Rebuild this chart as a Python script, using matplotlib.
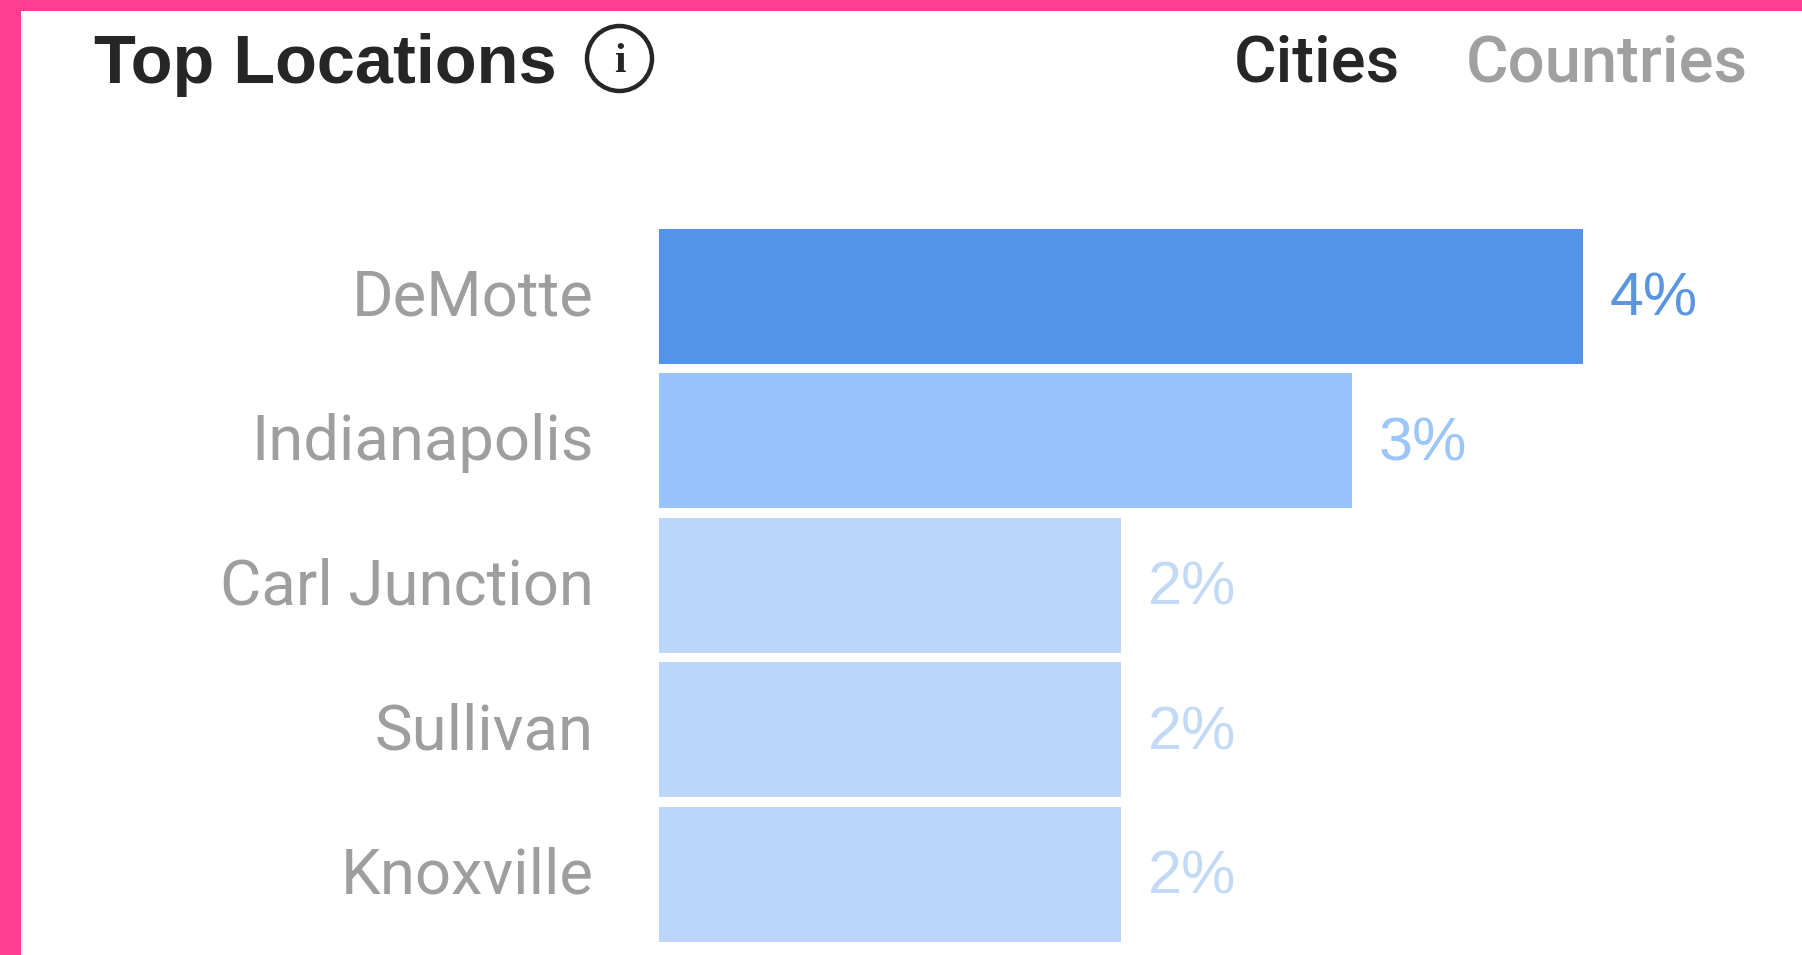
import matplotlib
matplotlib.use("Agg")
import matplotlib.pyplot as plt
from matplotlib.patches import Ellipse, Rectangle
from matplotlib.transforms import ScaledTranslation

cities = ["DeMotte", "Indianapolis", "Carl Junction", "Sullivan", "Knoxville"]
shares = [4, 3, 2, 2, 2]
value_labels = ["4%", "3%", "2%", "2%", "2%"]
tabs = ["Cities", "Countries"]

bar_colors = ["#5294E8", "#97C2FA", "#BBD6FA", "#BBD6FA", "#BBD6FA"]
text_colors = ["#5A96E0", "#9CC5F8", "#C3DAF7", "#C3DAF7", "#C3DAF7"]

W, H = 1802, 955
plt.rcParams["font.family"] = ["Roboto", "DejaVu Sans"]


def fx(x):
    return x / W


def fy(y):
    return 1 - y / H


fig = plt.figure(figsize=(W / 100, H / 100), dpi=100, facecolor="white")

# pink frame, only top and left
fig.patches.append(Rectangle((0, fy(11)), 1, 11 / H, transform=fig.transFigure, color="#FF3E92", lw=0))
fig.patches.append(Rectangle((0, 0), 21 / W, 1, transform=fig.transFigure, color="#FF3E92", lw=0))

ax = fig.add_axes([fx(658.5), 0, 1 - fx(658.5), fy(11)])
ax.patch.set_alpha(0)
ax.barh(range(len(cities)), shares, height=0.934, color=bar_colors)
ax.set_xlim(0, (W - 658.5) / 231)
ax.set_ylim((955 - 296.3) / 144.5, (11 - 296.3) / 144.5)
ax.set_yticks(range(len(cities)))
ax.set_yticklabels(cities, fontsize=45.6, color="#9E9E9E")
ax.tick_params(axis="y", length=0, pad=46.5)
ax.set_xticks([])
for s in ax.spines.values():
    s.set_visible(False)

# labels sit a little above centre in the original
up = ScaledTranslation(0, 2.8 / 72, fig.dpi_scale_trans)
for lab in ax.get_yticklabels():
    lab.set_transform(lab.get_transform() + up)

for i, v in enumerate(shares):
    ax.annotate(value_labels[i], (v, i), xytext=(19.5, 1.7), textcoords="offset points",
                va="center_baseline", ha="left", fontsize=44, color=text_colors[i],
                family="Liberation Sans")

fig.text(fx(94), fy(82.7), "Top Locations", fontsize=49.3, fontweight="bold", color="#262626", va="baseline",
         family="Liberation Sans")
fig.text(fx(1234), fy(81.7), tabs[0], fontsize=47, fontweight="medium", color="#262626", va="baseline")
fig.text(fx(1465.5), fy(81.7), tabs[1], fontsize=47, fontweight="medium", color="#A0A0A0", va="baseline")

# info icon
fig.patches.append(Ellipse((fx(619.5), fy(58.5)), 65 / W, 65 / H, transform=fig.transFigure,
                           fill=False, ec="#262626", lw=3.2))
fig.text(fx(619.5), fy(62), "i", fontsize=30, fontweight="bold", family="Liberation Serif",
         color="#262626", ha="center", va="center")

fig.savefig("out.png", dpi=100)
